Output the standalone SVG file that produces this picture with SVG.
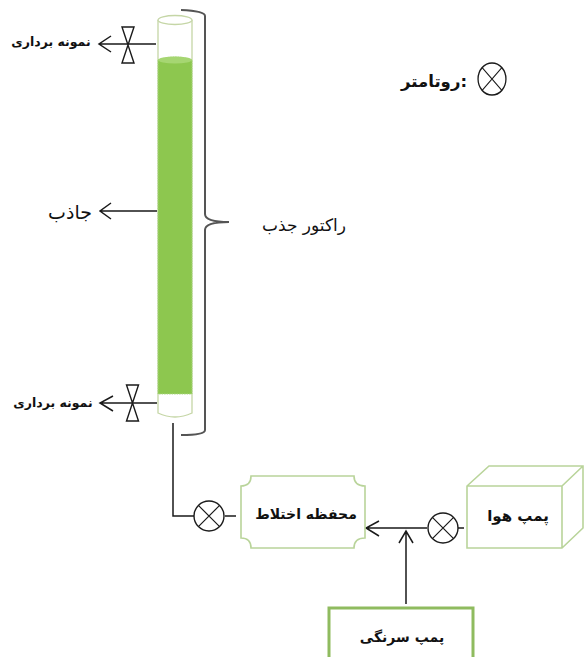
<svg xmlns="http://www.w3.org/2000/svg" width="586" height="657" viewBox="0 0 586 657">
<style>
.l{fill:none;stroke:#1a1a1a;stroke-width:1.5}
.b{fill:none;stroke:#555;stroke-width:2}
.o{fill:#fff;stroke:#c5d6a6;stroke-width:1.3}
.g{fill:#fff;stroke:#b9d49a;stroke-width:1.6}
.v{fill:#fff;stroke:#1a1a1a;stroke-width:1.4}
text{font-family:"DejaVu Sans",sans-serif;fill:#111;text-anchor:middle;direction:rtl}
</style>
<defs>
<g id="rot"><circle r="15" fill="#fff" stroke="#1a1a1a" stroke-width="1.4"/><path d="M-10.6-10.6L10.6 10.6M-10.6 10.6L10.6-10.6" stroke="#1a1a1a" stroke-width="1.2"/></g>
<path id="valve" class="v" d="M-6-18H6L-6 18H6Z"/>
</defs>
<g id="reactor">
<path class="o" d="M158 20V413Q175 421 192 413V20"/>
<ellipse class="o" cx="175" cy="20" rx="17" ry="4.5"/>
<path d="M158 60Q175 54 192 60V394H158Z" fill="#8dc74f" stroke="#a9d680" stroke-width="1" stroke-dasharray="1.5 1"/>
<ellipse cx="175" cy="60" rx="17" ry="3.5" fill="#a6d672"/>
</g>
<g id="connectors">
<path class="l" d="M156 44H99M111 36L99 44L111 52"/>
<path class="l" d="M157 211H100M111 203L100 211L111 219"/>
<path class="l" d="M157 403H100M113 396L100 403L113 411"/>
<path class="l" d="M173 423V516H194"/>
<path class="l" d="M225 516H236"/>
<path class="l" d="M427 528H366M379 521L366 528L379 536"/>
<path class="l" d="M458 528H464"/>
<path class="l" d="M406 604V531M399 543L406 531L413 543"/>
</g>
<g id="valve-top"><use href="#valve" x="128" y="45"/></g>
<g id="valve-bottom"><use href="#valve" x="132.500" y="403"/></g>
<g id="brace"><path class="b" d="M181 10Q205 11 205 16V214Q205 222 229 222Q205 222 205 230V430Q205 435 181 435"/></g>
<g id="label-sample-top"><text x="51" y="46" font-size="12.500" font-weight="bold">نمونه برداری</text></g>
<g id="label-absorbent"><text x="70" y="219" font-size="19">جاذب</text></g>
<g id="label-sample-bottom"><text x="53" y="407" font-size="12.500" font-weight="bold">نمونه برداری</text></g>
<g id="label-reactor"><text x="304" y="231" font-size="17">راکتور جذب</text></g>
<g id="legend"><use href="#rot" transform="translate(492 79) scale(.93 1.07)"/><text x="434" y="87" font-size="16.500" font-weight="bold">:روتامتر</text></g>
<g id="rotameter-1"><use href="#rot" x="209" y="516"/></g>
<g id="rotameter-2"><use href="#rot" x="443" y="528"/></g>
<g id="mix-chamber">
<path class="g" d="M251 476H354Q354 486 365 486V538Q354 538 354 548H251Q251 538 241 538V486Q251 486 251 476Z"/>
<text x="306" y="519" font-size="14" font-weight="bold">محفظه اختلاط</text>
</g>
<g id="air-pump">
<path class="g" d="M467 486L489 466H583V528L562 548H467ZM467 486H562V548M562 486L583 466"/>
<text x="518" y="521" font-size="15" font-weight="bold">پمپ هوا</text>
</g>
<g id="syringe-pump">
<path d="M329 660V608H473V660" fill="#fff" stroke="#8fbb5f" stroke-width="3"/>
<text x="402" y="642" font-size="14" font-weight="bold">پمپ سرنگی</text>
</g>
</svg>
